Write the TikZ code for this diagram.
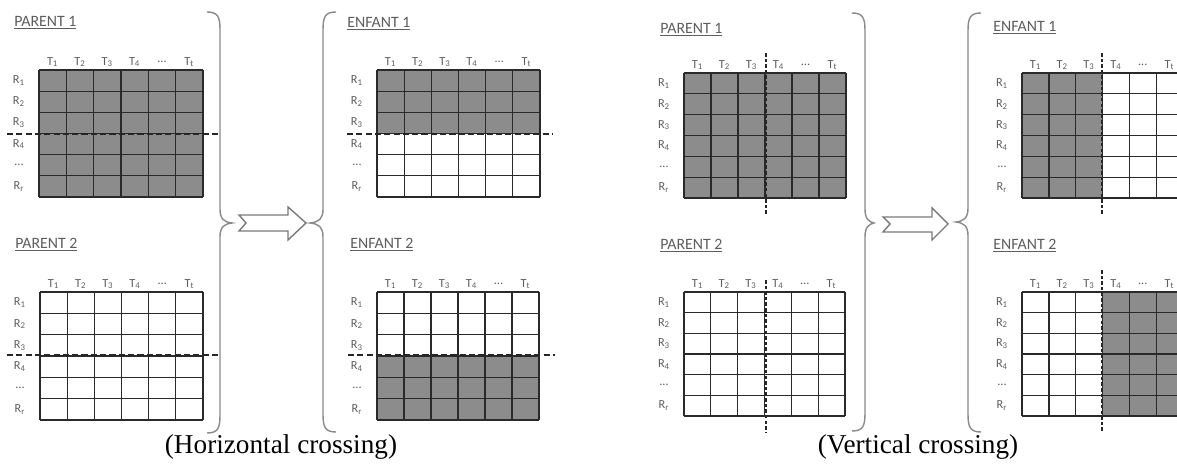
\documentclass[tikz,border=0pt]{standalone}
\usepackage{fontspec}
\setmainfont{Carlito}
\newfontfamily\capfont{Liberation Serif}
\definecolor{cellgray}{HTML}{8C8C8C}
\definecolor{gridline}{HTML}{2A2A2A}
\definecolor{labgray}{HTML}{5E5E5E}
\definecolor{bracegray}{HTML}{8A8A8A}
\definecolor{arrowgray}{HTML}{7A7A7A}
\newcommand\dotlab{...}
\newcommand\crossgrid[4]{%
  \foreach \i in {0,1,2,3,4,5,6}{%
    \draw[gline] ({#1+\i*(#3-#1)/6},#2) -- ({#1+\i*(#3-#1)/6},#4);
    \draw[gline] (#1,{#2+\i*(#4-#2)/6}) -- (#3,{#2+\i*(#4-#2)/6});
  }%
  \node[collab] at ({#1+0.5*(#3-#1)/6},{#2-8}) {T\textsubscript{1}};
  \node[collab] at ({#1+1.5*(#3-#1)/6},{#2-8}) {T\textsubscript{2}};
  \node[collab] at ({#1+2.5*(#3-#1)/6},{#2-8}) {T\textsubscript{3}};
  \node[collab] at ({#1+3.5*(#3-#1)/6},{#2-8}) {T\textsubscript{4}};
  \node[collab] at ({#1+4.5*(#3-#1)/6},{#2-8}) {\dotlab};
  \node[collab] at ({#1+5.5*(#3-#1)/6},{#2-8}) {T\textsubscript{t}};
  \node[collab] at ({#1-20},{#2+0.5*(#4-#2)/6}) {R\textsubscript{1}};
  \node[collab] at ({#1-20},{#2+1.5*(#4-#2)/6}) {R\textsubscript{2}};
  \node[collab] at ({#1-20},{#2+2.5*(#4-#2)/6}) {R\textsubscript{3}};
  \node[collab] at ({#1-20},{#2+3.5*(#4-#2)/6}) {R\textsubscript{4}};
  \node[collab] at ({#1-20},{#2+4.5*(#4-#2)/6}) {\dotlab};
  \node[collab] at ({#1-20},{#2+5.5*(#4-#2)/6}) {R\textsubscript{r}};
}
\newcommand\myrbrace[5]{% X top tipx mid bottom
  \draw[brace] ({#1-13},#2) .. controls ({#1-2},#2) and (#1,{#2+5}) .. (#1,{#2+18})
    -- (#1,{#4-14}) .. controls (#1,{#4-4}) and ({#1+4},{#4-1}) .. (#3,#4)
    .. controls ({#1+4},{#4+1}) and (#1,{#4+4}) .. (#1,{#4+14})
    -- (#1,{#5-18}) .. controls (#1,{#5-5}) and ({#1-2},#5) .. ({#1-13},#5);
}
\newcommand\mylbrace[5]{% X top tipx mid bottom
  \draw[brace] ({#1+13},#2) .. controls ({#1+2},#2) and (#1,{#2+5}) .. (#1,{#2+18})
    -- (#1,{#4-14}) .. controls (#1,{#4-4}) and ({#1-4},{#4-1}) .. (#3,#4)
    .. controls ({#1-4},{#4+1}) and (#1,{#4+4}) .. (#1,{#4+14})
    -- (#1,{#5-18}) .. controls (#1,{#5-5}) and ({#1+2},#5) .. ({#1+13},#5);
}
\tikzset{
  gline/.style={draw=gridline, line width=0.75pt},
  cellfill/.style={fill=cellgray},
  collab/.style={text=labgray, font=\fontsize{7}{8}\selectfont, inner sep=0pt},
  title/.style={text=labgray, font=\fontsize{9}{10}\selectfont, anchor=west, inner sep=0pt},
  cut/.style={draw=black!85, line width=1.1pt, dash pattern=on 3.5pt off 1.8pt},
  vcut/.style={draw=black!85, line width=1.1pt, dash pattern=on 2pt off 1.2pt},
  brace/.style={draw=bracegray, line width=0.8pt},
  blockarrow/.style={draw=arrowgray, line width=0.8pt, fill=white, line join=miter},
  caption/.style={font=\capfont\fontsize{15.5}{18}\selectfont, inner sep=0pt}
}
\begin{document}
\begin{tikzpicture}[x=0.02cm, y=-0.02cm]
\useasboundingbox (0,0) rectangle (1177,472);
\clip (0,0) rectangle (1177,472);
\fill[white] (0,0) rectangle (1177,472);

% ===== Horizontal crossing =====
\node[title] (p1h) at (14,23) {\underline{PARENT 1}};
\fill[cellfill] (39,70) rectangle (203,197);
\crossgrid{39}{70}{203}{197}
\draw[cut] (7,134) -- (218,134);

\node[title] (p2h) at (15,245) {\underline{PARENT 2}};
\crossgrid{40}{292}{203}{420}
\draw[cut] (7,355) -- (218,355);

\node[title] (e1h) at (347,24) {\underline{ENFANT 1}};
\fill[cellfill] (377,70) rectangle (540,134);
\crossgrid{377}{70}{540}{197}
\draw[cut] (347,134) -- (553,134);

\node[title] (e2h) at (350,245) {\underline{ENFANT 2}};
\fill[cellfill] (377,355) rectangle (539,420);
\crossgrid{377}{292}{539}{420}
\draw[cut] (348,355) -- (555,355);

\myrbrace{220}{12}{232}{223}{433}
\mylbrace{323}{12}{310}{223}{432}
\draw[blockarrow] (239,215) -- (288,215) -- (288,207) -- (306,223) -- (288,240) -- (288,231) -- (239,231) -- (246,223) -- cycle;

\node[caption] (caph) at (281,447) {(Horizontal crossing)};

% ===== Vertical crossing =====
\node[title] (p1v) at (660,30) {\underline{PARENT 1}};
\fill[cellfill] (684,73) rectangle (846,198);
\crossgrid{684}{73}{846}{198}
\draw[vcut] (766,53) -- (766,215);

\node[title] (p2v) at (660,246) {\underline{PARENT 2}};
\crossgrid{684}{292}{845}{416}
\draw[vcut] (766,280) -- (766,433);

\node[title] (e1v) at (993,28) {\underline{ENFANT 1}};
\fill[cellfill] (1022,73) rectangle (1102,198);
\crossgrid{1022}{73}{1183}{198}
\draw[vcut] (1102,53) -- (1102,215);

\node[title] (e2v) at (993,246) {\underline{ENFANT 2}};
\fill[cellfill] (1102,292) rectangle (1183,416);
\crossgrid{1022}{292}{1183}{416}
\draw[vcut] (1102,270) -- (1102,433);

\myrbrace{865}{13}{874}{223}{431}
\mylbrace{968}{13}{956}{222}{432}
\draw[blockarrow] (883,217) -- (932,217) -- (932,208) -- (948,224) -- (932,240) -- (932,232) -- (883,232) -- (890,224) -- cycle;

\node[caption] (capv) at (918,447) {(Vertical crossing)};
\end{tikzpicture}
\end{document}
